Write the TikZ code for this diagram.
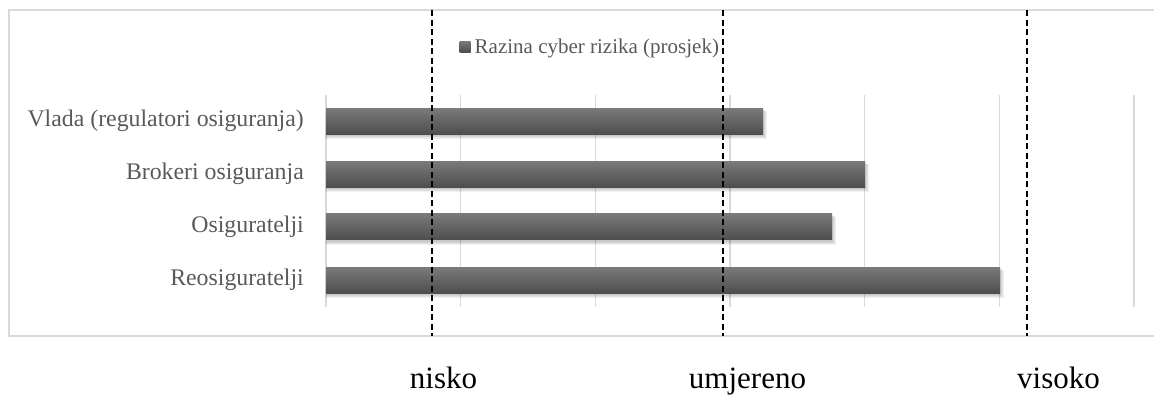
\documentclass[tikz,border=0pt]{standalone}
\usepackage{fontspec}
\setmainfont{Liberation Serif}
\definecolor{framegray}{RGB}{217,217,217}
\definecolor{labelgray}{RGB}{89,89,89}
\definecolor{bartop}{RGB}{122,122,122}
\definecolor{barbot}{RGB}{78,78,78}
\begin{document}
\begin{tikzpicture}[x=1bp,y=-1bp,
  frameline/.style={draw=framegray,line width=1.6bp},
  gridline/.style={draw=framegray,line width=1.6bp},
  bar/.style={rectangle,inner sep=0pt,minimum height=26bp,anchor=west,top color=bartop,bottom color=barbot,draw=none},
  barshadow/.style={fill=black,opacity=0.06},
  catlabel/.style={anchor=east,text=labelgray,inner sep=0pt,font=\fontsize{23.8bp}{28bp}\selectfont},
  levellabel/.style={anchor=base,inner sep=0pt,font=\fontsize{31bp}{36bp}\selectfont},
  refline/.style={draw=black,line width=1.8bp,dash pattern=on 6bp off 3.5bp}]
\useasboundingbox (0,0) rectangle (1154,396);
\clip (0,0) rectangle (1154,396);
% frame
\draw[frameline] (1170,10) -- (9,10) -- (9,336) -- (1170,336);
% gridlines
\foreach \i in {0,...,6}{
  \draw[gridline] ({326+134.67*\i},95) -- ({326+134.67*\i},307);
}
% legend
\node[rectangle,inner sep=0pt,minimum size=11bp,top color=bartop,bottom color=barbot] (legsq) at (465,46.5) {};
\node[anchor=base west,text=labelgray,inner sep=0pt,font=\fontsize{21bp}{25bp}\selectfont] (legtxt) at (474.5,53) {Razina cyber rizika (prosjek)};
% soft bar shadows
\foreach \y/\w in {121/437,174/539,226.5/506,280/674}{
  \foreach \s in {1,2,3,4}{
    \fill[barshadow] ({327-\s*0.5},{\y-12+\s*0.5}) rectangle ({326+\w+\s},{\y+14+\s});
  }
}
% bars
\node[bar,minimum width=437bp] (b1) at (326,121) {};
\node[bar,minimum width=539bp] (b2) at (326,174) {};
\node[bar,minimum width=506bp] (b3) at (326,226.5) {};
\node[bar,minimum width=674bp] (b4) at (326,280) {};
% category labels
\node[catlabel] (l1) at (304,121) {Vlada (regulatori osiguranja)};
\node[catlabel] (l2) at (304,174) {Brokeri osiguranja};
\node[catlabel] (l3) at (304,226.5) {Osiguratelji};
\node[catlabel] (l4) at (304,280) {Reosiguratelji};
% reference lines
\coordinate (d1t) at (432,10); \coordinate (d1b) at (432,336);
\coordinate (d2t) at (723,10); \coordinate (d2b) at (723,336);
\coordinate (d3t) at (1027,10); \coordinate (d3b) at (1027,336);
\draw[refline] (d1t) -- (d1b);
\draw[refline] (d2t) -- (d2b);
\draw[refline] (d3t) -- (d3b);
% level labels
\node[levellabel] (nisko) at (443.5,388) {nisko};
\node[levellabel] (umj) at (747.5,388) {umjereno};
\node[levellabel] (vis) at (1058.5,388) {visoko};
\end{tikzpicture}
\end{document}
